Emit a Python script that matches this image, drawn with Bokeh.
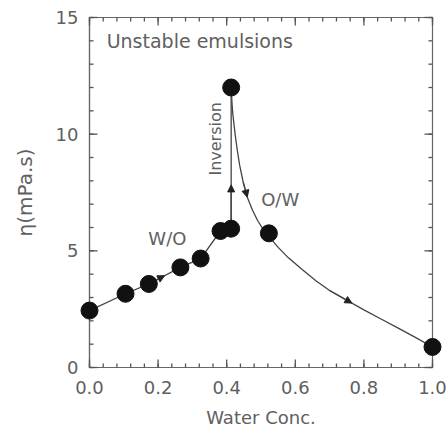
from bokeh.plotting import figure
from bokeh.models import Range1d, FixedTicker, Label, Arrow, NormalHead, PrintfTickFormatter
from bokeh.embed import file_html
from bokeh.resources import INLINE
import math

# ---- data ----
pt_x = [0.0, 0.105, 0.173, 0.265, 0.324, 0.382, 0.413, 0.413, 0.523, 1.0]
pt_y = [2.44, 3.16, 3.58, 4.29, 4.67, 5.85, 5.95, 12.0, 5.75, 0.88]

# W/O branch (first seven points) and inversion jump
wo_n = 7
# O/W branch (curve)
cur_x = [0.413, 0.4145, 0.416, 0.418, 0.421, 0.425, 0.431, 0.438, 0.448, 0.460, 0.475,
         0.490, 0.505, 0.523, 0.55, 0.58, 0.62, 0.66, 0.70, 0.765, 0.80, 0.85, 0.90, 0.95, 1.0]
cur_y = [12.0, 11.6, 11.2, 10.85, 10.45, 9.95, 9.3, 8.65, 7.95, 7.3, 6.75,
         6.3, 5.95, 5.62, 5.15, 4.7, 4.2, 3.72, 3.30, 2.76, 2.47, 2.08, 1.69, 1.29, 0.88]

x_ticks = [0.0, 0.2, 0.4, 0.6, 0.8, 1.0]
x_minor = [round(i * 0.04, 2) for i in range(26)]
y_ticks = [0, 5, 10, 15]
y_minor = list(range(16))

X0, X1, Y0, Y1 = 0.0, 1.0, 0.0, 15.0

TXT = "#606060"
LINE = "#444444"
TICK = "#555555"
FONT = "DejaVu Sans"

p = figure(width=448, height=430, output_backend="svg", toolbar_location=None,
           x_range=Range1d(X0, X1), y_range=Range1d(Y0, Y1),
           min_border_left=89, min_border_right=16, min_border_top=17, min_border_bottom=61)
p.grid.visible = False
p.outline_line_color = "#666666"
p.outline_line_width = 1.2

def style(ax):
    ax.axis_line_color = "#666666"
    ax.axis_line_width = 1.2
    ax.major_tick_in = 0
    ax.major_tick_out = 0
    ax.minor_tick_in = 0
    ax.minor_tick_out = 0
    ax.major_label_text_font = FONT
    ax.major_label_text_color = TXT
    ax.major_label_text_font_size = "18px"
    ax.axis_label_text_font = FONT
    ax.axis_label_text_color = TXT
    ax.axis_label_text_font_style = "normal"

xax = p.xaxis[0]
xax.ticker = FixedTicker(ticks=x_ticks)
xax.formatter = PrintfTickFormatter(format="%.1f")
xax.axis_label = "Water Conc."
xax.axis_label_text_font_size = "18px"
xax.major_label_standoff = 13
xax.axis_label_standoff = 10
style(xax)

yax = p.yaxis[0]
yax.ticker = FixedTicker(ticks=y_ticks)
yax.axis_label = "η(mPa.s)"
yax.axis_label_text_font_size = "20px"
yax.major_label_standoff = 11
yax.axis_label_standoff = 16
style(yax)

# inward ticks on all four sides (8 px major, 4 px minor) drawn as dash markers
px_x = (X1 - X0) / 343.0
px_y = (Y1 - Y0) / 352.0
for ticks, L in ((x_ticks, 8), (x_minor, 4)):
    n = len(ticks)
    for yb, sgn in ((Y0, 1), (Y1, -1)):
        rr = p.scatter(x=ticks, y=[yb + sgn * (L / 2) * px_y] * n, marker="dash", size=L,
                       angle=math.pi / 2, line_color=TICK, line_width=1.3)
        rr.level = "overlay"
for ticks, L in ((y_ticks, 8), (y_minor, 4)):
    n = len(ticks)
    for xb, sgn in ((X0, 1), (X1, -1)):
        rr = p.scatter(x=[xb + sgn * (L / 2) * px_x] * n, y=ticks, marker="dash", size=L,
                       line_color=TICK, line_width=1.3)
        rr.level = "overlay"

# lines
p.line(pt_x[:wo_n], pt_y[:wo_n], line_color=LINE, line_width=1.3)
p.line([pt_x[wo_n - 1], pt_x[wo_n]], [pt_y[wo_n - 1], pt_y[wo_n]], line_color=LINE, line_width=1.3)
p.line(cur_x, cur_y, line_color=LINE, line_width=1.3)

# arrow heads along the paths
def head(x0, y0, x1, y1):
    p.add_layout(Arrow(end=NormalHead(size=7, fill_color="#222222", line_color="#222222", line_width=1),
                       x_start=x0, y_start=y0, x_end=x1, y_end=y1,
                       line_color=LINE, line_width=1.3))

f = 0.5
head(pt_x[2], pt_y[2], pt_x[2] + f * (pt_x[3] - pt_x[2]), pt_y[2] + f * (pt_y[3] - pt_y[2]))
f = 0.31
head(pt_x[6], pt_y[6], pt_x[6], pt_y[6] + f * (pt_y[7] - pt_y[6]))
head(cur_x[8], cur_y[8], cur_x[9], cur_y[9])
head(cur_x[18], cur_y[18], cur_x[19], cur_y[19])

# points (drawn at overlay level so they are not clipped by the frame)
r = p.scatter(pt_x, pt_y, size=17, fill_color="#111111", line_color="#111111")
r.level = "overlay"

# texts
def lab(x, y, t, angle=0.0, align="center", size="17px"):
    p.add_layout(Label(x=x, y=y, text=t, angle=angle, text_align=align, text_baseline="middle",
                       text_font=FONT, text_font_size=size, text_color=TXT))

lab(0.05, 13.98, "Unstable emulsions", align="left", size="19px")
lab(0.227, 5.54, "W/O", size="18px")
lab(0.556, 7.2, "O/W", size="18px")
lab(0.367, 9.8, "Inversion", angle=1.5708, size="16px")

open("out.html", "w").write(file_html(p, INLINE))
